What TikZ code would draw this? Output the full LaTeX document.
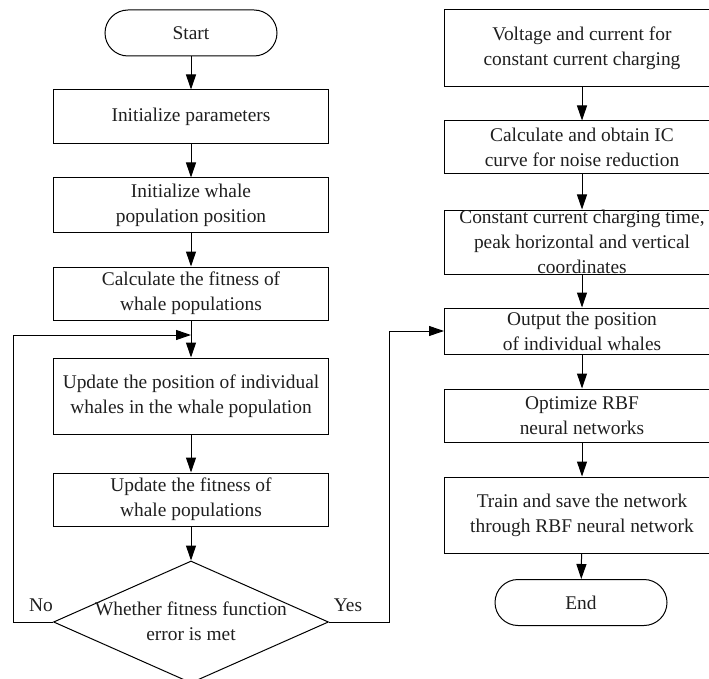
\documentclass[tikz,border=0pt]{standalone}
\usepackage{fontspec}
\setmainfont{Liberation Serif}
\usetikzlibrary{shapes.geometric,arrows.meta}
\begin{document}
\begin{tikzpicture}[x=1pt,y=-1pt,
  every node/.style={font=\fontsize{19.4}{25}\selectfont, text=black!88, align=center, inner sep=0pt},
  procbox/.style={draw, rectangle, minimum width=275pt, line width=1pt},
  termbox/.style={draw, rectangle, rounded corners=23pt, minimum width=172pt, minimum height=46pt, line width=1pt},
  decision/.style={draw, diamond, aspect=2.254, minimum width=275pt, minimum height=122pt, line width=1pt},
  arr/.style={line width=1pt, -{Triangle[length=15pt,width=10pt]}},
  conn/.style={line width=1pt}]
\useasboundingbox (0,0) rectangle (709,679);
% left column
\node[termbox] (start) at (191,33) {Start};
\node[procbox, minimum height=54pt] (p1) at (191,117) {Initialize parameters};
\node[procbox, minimum height=54pt] (p2) at (191,205) {Initialize whale\\population position};
\node[procbox, minimum height=53pt] (p3) at (191,293.5) {Calculate the fitness of\\whale populations};
\node[procbox, minimum height=76pt] (p4) at (191,396) {Update the position of individual\\whales in the whale population};
\node[procbox, minimum height=53pt] (p5) at (191,499.5) {Update the fitness of\\whale populations};
\node[decision] (d) at (191,622) {};
\node (dtext) at (191,621) {Whether fitness function\\error is met};
% right column
\node[procbox, minimum height=77pt] (q1) at (582,48.5) {Voltage and current for\\constant current charging};
\node[procbox, minimum height=53pt] (q2) at (582,147.5) {Calculate and obtain IC\\curve for noise reduction};
\node[procbox, minimum height=64pt] (q3) at (582,242) {Constant current charging time,\\peak horizontal and vertical\\coordinates};
\node[procbox, minimum height=46pt] (q4) at (582,331) {Output the position\\of individual whales};
\node[procbox, minimum height=53pt] (q5) at (582,415.5) {Optimize RBF\\neural networks};
\node[procbox, minimum height=76pt] (q6) at (582,515) {Train and save the network\\through RBF neural network};
\node[termbox] (end) at (581,602.5) {End};
% labels
\node (no) at (41,605) {No};
\node (yes) at (348,605) {Yes};
% connectors left
\draw[arr] (start) -- (p1);
\draw[arr] (p1) -- (p2);
\draw[arr] (p2) -- (p3);
\draw[arr] (p3) -- (p4);
\draw[arr] (p4) -- (p5);
\draw[arr] (p5) -- (d);
\coordinate (nl) at (13,335);
\coordinate (join) at (191,335);
\draw[arr] (d.west) -| (nl) -- (join);
% yes branch
\coordinate (yr) at (389,331);
\draw[arr] (d.east) -| (yr) -- (q4.west);
% connectors right
\draw[arr] (q1) -- (q2);
\draw[arr] (q2) -- (q3);
\draw[arr] (q3) -- (q4);
\draw[arr] (q4) -- (q5);
\draw[arr] (q5) -- (q6);
\draw[arr] (q6) -- (end);
\end{tikzpicture}
\end{document}
